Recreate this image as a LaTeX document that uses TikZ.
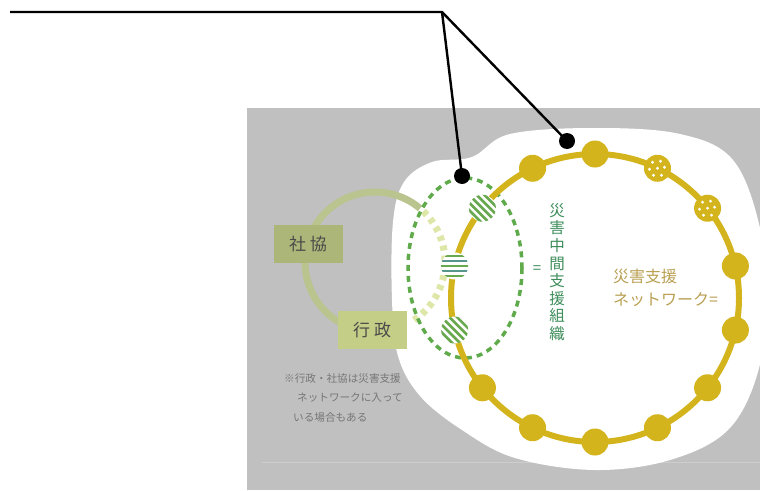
\documentclass[tikz,border=0pt]{standalone}
\usepackage{fontspec}
\setmainfont{Noto Sans CJK JP}
\usetikzlibrary{calc}
\definecolor{bgGrey}{RGB}{192,192,192}
\definecolor{faintLine}{RGB}{205,205,205}
\definecolor{ringY}{RGB}{211,180,28}
\definecolor{dashG}{RGB}{95,170,75}
\definecolor{stripeG}{RGB}{104,168,78}
\definecolor{stripeT}{RGB}{88,150,140}
\definecolor{vtextG}{RGB}{62,142,92}
\definecolor{paleArc}{RGB}{186,196,142}
\definecolor{paleDot}{RGB}{222,230,168}
\definecolor{boxA}{RGB}{172,182,120}
\definecolor{boxB}{RGB}{196,206,134}
\definecolor{labText}{RGB}{74,74,74}
\definecolor{netText}{RGB}{185,160,82}
\definecolor{noteText}{RGB}{118,118,118}
\tikzset{
  ringdot/.style={circle, fill=ringY, minimum size=27pt, inner sep=0pt},
  dotteddot/.style={ringdot, path picture={
      \foreach \dx/\dy in {-5/-6, 3/-7, -8/1, 0/0, 7/-1, -4/7, 4/7}{
        \fill[white, shift={(path picture bounding box.center)}] (\dx,\dy) circle[radius=1.6];}}},
  stripedot/.style={circle, fill=white, minimum size=27pt, inner sep=0pt, path picture={
      \foreach \k in {-5,...,5}{
        \draw[stripeG, line width=2.6pt, shift={(path picture bounding box.center)}]
          ({-3.818*\k-15},{3.818*\k-15}) -- ({-3.818*\k+15},{3.818*\k+15});}}},
  hstripedot/.style={circle, fill=white, minimum size=27pt, inner sep=0pt, path picture={
      \foreach \k/\c in {-4/stripeG,-3/stripeT,-2/stripeG,-1/stripeT,0/stripeG,1/stripeT,2/stripeG,3/stripeT,4/stripeG}{
        \draw[\c, line width=2.4pt, shift={(path picture bounding box.center)}]
          (-20,\k*5) -- (20,\k*5);}}},
  blackdot/.style={circle, fill=black, minimum size=16pt, inner sep=0pt},
  labbox/.style={minimum width=69pt, minimum height=38pt, inner sep=0pt, text=labText, font=\fontsize{17}{20}\selectfont},
  leader/.style={black, line width=2.4pt},
  notetext/.style={anchor=west, text=noteText, font=\fontsize{10.6}{12}\selectfont, inner sep=0pt},
  nettext/.style={anchor=west, text=netText, font=\fontsize{16}{20}\selectfont, inner sep=0pt},
}
\begin{document}
\begin{tikzpicture}[x=1pt,y=-1pt]
\useasboundingbox (0,0) rectangle (760,490);
\fill[white] (0,0) rectangle (760,490);
% grey panel
\fill[bgGrey] (247,108) rectangle (760,490);
\draw[faintLine, line width=0.8pt] (262,462) -- (760,462);
% white blob
\fill[white] plot[smooth cycle, tension=0.6] coordinates {
  (510,134) (595,128) (680,134) (733,160) (760,228) (766,300) (758,372)
  (728,430) (670,460) (595,470) (515,458) (462,430) (420,396) (398,356)
  (392,300) (393,222) (404,182) (432,162) (472,157)};
% pale circle
\draw[paleArc, line width=7pt] (375,262) ++(-50:70) arc[start angle=-50, end angle=-255, radius=70];
\draw[paleDot, line width=7pt, dash pattern=on 5pt off 5pt] (375,262) ++(56:70) arc[start angle=56, end angle=-50, radius=70];
% labels
\node[labbox, fill=boxA] (shakyo) at (308,244) {社\hspace{4pt}協};
\node[labbox, fill=boxB] (gyosei) at (372,330) {行\hspace{4pt}政};
% note
\node[notetext] (note1) at (284,378) {※行政・社協は災害支援};
\node[notetext] (note2) at (297,398) {ネットワークに入って};
\node[notetext] (note3) at (293,417) {いる場合もある};
% dashed green ellipse
\draw[dashG, line width=3.5pt, dash pattern=on 6pt off 5pt] (465,268) ellipse[x radius=57, y radius=90];
% yellow ring
\draw[ringY, line width=6pt] (595,298) circle[radius=144];
\foreach \k in {0,1,5,6,7,8,9,10,11}{
  \pgfmathsetmacro{\ang}{90+\k*360/14}
  \node[ringdot] (d\k) at ({595+144*cos(\ang)},{298-144*sin(\ang)}) {};
}
\foreach \k in {12,13}{
  \pgfmathsetmacro{\ang}{90+\k*360/14}
  \node[dotteddot] (d\k) at ({595+144*cos(\ang)},{298-144*sin(\ang)}) {};
}
\pgfmathsetmacro{\angA}{90+2*360/14}
\pgfmathsetmacro{\angB}{90+3*360/14}
\pgfmathsetmacro{\angC}{90+4*360/14}
\node[stripedot] (d2) at ({595+144*cos(\angA)},{298-144*sin(\angA)}) {};
\node[hstripedot] (d3) at ({595+144*cos(\angB)},{298-144*sin(\angB)}) {};
\node[stripedot] (d4) at ({595+144*cos(\angC)},{298-144*sin(\angC)}) {};
% texts
\node[text=vtextG, font=\fontsize{15.5}{17.6}\selectfont, align=center, inner sep=0pt] (vtext) at (557,272) {災\\害\\中\\間\\支\\援\\組\\織};
\node[text=vtextG, font=\fontsize{15}{18}\selectfont, inner sep=0pt] (eq) at (537,270) {=};
\node[nettext] (net1) at (613,276) {災害支援};
\node[nettext] (net2) at (613,300) {ネットワーク=};
% leader lines
\coordinate (lstart) at (10,12);
\coordinate (lcorner) at (442,12);
\node[blackdot] (bdA) at (462,176) {};
\node[blackdot] (bdB) at (567,141) {};
\draw[leader] (lstart) -- (lcorner) -- (bdA.center);
\draw[leader] (lcorner) -- (bdB.center);
\end{tikzpicture}
\end{document}
